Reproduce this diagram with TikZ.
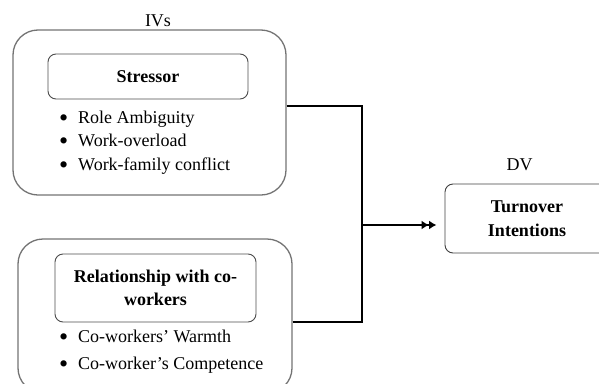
\documentclass[tikz,border=0pt]{standalone}
\usepackage{graphicx}
\usepackage{fontspec}
\setmainfont{Liberation Serif}
\usetikzlibrary{arrows.meta}
\newcommand{\dgfont}{\fontsize{18}{23.5}\selectfont}
\newcommand{\bul}{\makebox[19pt][l]{\raisebox{-0.17em}{\scalebox{1.45}{\textbullet}}}}
\tikzset{outerbox/.style={draw=black!55, line width=1.3pt, rounded corners=25pt, inner sep=0pt},
innerbox/.style={draw=black!70, line width=0.9pt, rounded corners=8pt, inner sep=0pt, align=center, font=\dgfont\bfseries},
item/.style={anchor=base west, inner sep=0pt, font=\dgfont},
conn/.style={line width=1.3pt}}

\begin{document}
\begin{tikzpicture}[x=1pt, y=-1pt]
\useasboundingbox (0,0) rectangle (599,383);
\clip (0,0) rectangle (599,383);
% independent variables
\node (ivs) at (158,21) [font=\dgfont] {IVs};
\node (top) at (149.5,112.5) [outerbox, minimum width=273pt, minimum height=165pt] {};
\node (stress) at (148,76.5) [innerbox, minimum width=200pt, minimum height=45pt] {Stressor};
\node (r1) at (59,123) [item] {\bul Role Ambiguity};
\node (r2) at (59,146.5) [item] {\bul Work-overload};
\node (r3) at (59,170) [item] {\bul Work-family conflict};
\node (bot) at (155,316) [outerbox, minimum width=274pt, minimum height=154pt] {};
\node (rel) at (155.5,288) [innerbox, minimum width=201pt, minimum height=68pt] {Relationship with co-\\workers};
\node (w1) at (59,342) [item] {\bul Co-workers' Warmth};
\node (w2) at (59,369) [item] {\bul Co-worker's Competence};
% dependent variable
\node (dvl) at (519.5,165) [font=\dgfont] {DV};
\node (dv) at (527,218.5) [innerbox, draw=black!75, minimum width=164pt, minimum height=69pt] {Turnover\\Intentions};
\coordinate (j) at (362,225);
\draw[conn] ([yshift=6.5pt]top.east) -| (j);
\draw[conn] ([yshift=-6pt]bot.east) -| (j);
\draw[line width=1.8pt, -{Latex[length=7.5pt,width=9pt]Latex[length=7.5pt,width=9pt]}, shorten >=8pt] (j) -- (dv.west |- j);
\end{tikzpicture}
\end{document}
